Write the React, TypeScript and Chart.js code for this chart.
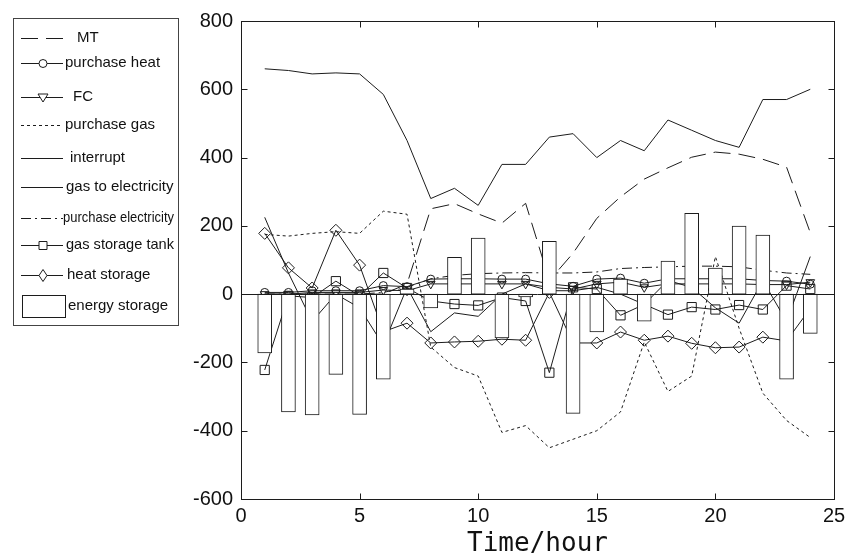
import React, { useEffect, useRef } from 'react';
import { Chart, registerables } from 'chart.js';

Chart.register(...registerables);

// ---------------- data ----------------
const hours = [1, 2, 3, 4, 5, 6, 7, 8, 9, 10, 11, 12, 13, 14, 15, 16, 17, 18, 19, 20, 21, 22, 23, 24];

const mtValues = [0, 0, 0, 0, 0, 0, 30, 250, 265, 235, 208, 266, 40, 120, 222, 285, 337, 370, 401, 416, 410, 395, 372, 180];
const purchaseHeat = [5, 5, 10, 10, 10, 25, 22, 44, 45, 45, 44, 44, 30, 23, 44, 47, 32, 45, 45, 45, 45, 40, 38, 29];
const fcValues = [0, 0, 5, 5, 5, 12, 10, 30, 30, 30, 30, 30, 20, 15, 30, 35, 20, 30, 30, 30, 30, 28, 28, 35];
const purchaseGas = [175, 170, 178, 183, 178, 243, 234, -155, -215, -240, -405, -385, -450, -425, -400, -345, -140, -285, -240, 110, -100, -290, -370, -420];
const interrupt = [660, 655, 645, 648, 645, 585, 450, 280, 310, 260, 380, 380, 460, 470, 400, 450, 420, 510, 480, 450, 430, 570, 570, 600];
const gasToElectricity = [225, 62, -80, 0, -40, -150, 20, -110, -55, -65, 0, 30, 10, 10, 20, 0, -30, 40, 20, -40, -85, 40, -80, 110];
const purchaseElectricity = [0, 0, 0, 0, 0, 5, 20, 45, 55, 60, 62, 63, 62, 62, 65, 75, 78, 80, 82, 82, 80, 70, 62, 58];
const gasStorageTank = [-222, -5, -10, 38, -5, 62, 18, -20, -29, -33, -10, -20, -230, 20, 15, -62, -30, -60, -38, -45, -32, -45, 25, 15];
const heatStorage = [178, 77, 18, 187, 85, -110, -85, -143, -140, -138, -132, -135, 5, -143, -143, -111, -135, -123, -144, -157, -155, -126, -137, -42];
const energyStorage = [-172, -345, -354, -235, -352, -249, 15, -40, 108, 164, -128, -8, 155, -349, -111, 44, -79, 97, 237, 76, 199, 173, -249, -115];

const xTicks = [0, 5, 10, 15, 20, 25];
const yTicks = [-600, -400, -200, 0, 200, 400, 600, 800];

const INK = '#1c1c1c';
const CLEAR = 'rgba(0,0,0,0)';

function pts(vals: number[]) {
  return hours.map((h, i) => ({ x: h, y: vals[i] }));
}

// ---------------- plugin: frame, inside ticks, zero line, legend ----------------
function drawMarker(ctx: CanvasRenderingContext2D, kind: string, x: number, y: number) {
  ctx.save();
  ctx.setLineDash([]);
  ctx.fillStyle = '#fff';
  ctx.strokeStyle = INK;
  ctx.lineWidth = 1;
  ctx.beginPath();
  if (kind === 'circle') {
    ctx.arc(x, y, 4, 0, Math.PI * 2);
  } else if (kind === 'triangle') {
    ctx.moveTo(x, y + 4.5);
    ctx.lineTo(x - 5, y - 3.5);
    ctx.lineTo(x + 5, y - 3.5);
    ctx.closePath();
  } else if (kind === 'rect') {
    ctx.rect(x - 4, y - 4, 8, 8);
  } else if (kind === 'rectRot') {
    ctx.moveTo(x, y - 6);
    ctx.lineTo(x + 4, y);
    ctx.lineTo(x, y + 6);
    ctx.lineTo(x - 4, y);
    ctx.closePath();
  }
  ctx.fill();
  ctx.stroke();
  ctx.restore();
}

const framePlugin = {
  id: 'frame',
  afterDatasetsDraw(chart: any) {
    const { ctx, chartArea: a, scales } = chart;
    const y0 = Math.round(scales.y.getPixelForValue(0)) + 0.5;
    ctx.save();
    ctx.strokeStyle = INK;
    ctx.lineWidth = 1;
    ctx.beginPath();
    ctx.moveTo(a.left, y0);
    ctx.lineTo(a.right, y0);
    ctx.stroke();
    ctx.restore();
  },
  afterDraw(chart: any) {
    const { ctx, chartArea: a, scales } = chart;
    ctx.save();
    ctx.strokeStyle = INK;
    ctx.lineWidth = 1;
    const L = Math.round(a.left) + 0.5;
    const R = Math.round(a.right) + 0.5;
    const T = Math.round(a.top) + 0.5;
    const B = Math.round(a.bottom) + 0.5;
    ctx.strokeRect(L, T, R - L, B - T);
    const tl = 6;
    ctx.beginPath();
    scales.x.ticks.forEach((t: any) => {
      const px = Math.round(scales.x.getPixelForValue(t.value)) + 0.5;
      ctx.moveTo(px, B);
      ctx.lineTo(px, B - tl);
      ctx.moveTo(px, T);
      ctx.lineTo(px, T + tl);
    });
    scales.y.ticks.forEach((t: any) => {
      const py = Math.round(scales.y.getPixelForValue(t.value)) + 0.5;
      ctx.moveTo(L, py);
      ctx.lineTo(L + tl, py);
      ctx.moveTo(R, py);
      ctx.lineTo(R - tl, py);
    });
    ctx.stroke();

    // legend box
    const lx = 13.5, ly = 18.5, lw = 165, lh = 307;
    ctx.fillStyle = '#fff';
    ctx.fillRect(lx, ly, lw, lh);
    ctx.strokeStyle = '#444';
    ctx.strokeRect(lx, ly, lw, lh);

    const rowY = [38, 63, 97, 125, 158, 187, 218, 245, 275, 306];
    const textX = [77, 65, 73, 65, 70, 66, 63, 66, 67, 68];
    ctx.font = '15px "Liberation Sans", Arial, sans-serif';
    ctx.textBaseline = 'middle';
    ctx.textAlign = 'left';
    chart.data.datasets.forEach((ds: any, i: number) => {
      const yy = Math.round(rowY[i]) + 0.5;
      if (ds.type === 'bar') {
        ctx.setLineDash([]);
        ctx.fillStyle = '#fff';
        ctx.strokeStyle = INK;
        ctx.fillRect(22.5, 295.5, 43, 22);
        ctx.strokeRect(22.5, 295.5, 43, 22);
      } else {
        ctx.strokeStyle = INK;
        ctx.lineWidth = 1;
        ctx.setLineDash(ds.borderDash || []);
        ctx.beginPath();
        ctx.moveTo(21, yy);
        ctx.lineTo(63, yy);
        ctx.stroke();
        ctx.setLineDash([]);
        if (ds.pointRadius > 0) drawMarker(ctx, ds.pointStyle, 43, yy);
      }
      ctx.fillStyle = '#111';
      ctx.fillText(ds.label, textX[i], rowY[i], 174 - textX[i]);
    });
    ctx.restore();
  },
};

function lineSet(label: string, vals: number[], extra: any) {
  return {
    type: 'line',
    label,
    data: pts(vals),
    borderColor: INK,
    borderWidth: 1,
    backgroundColor: CLEAR,
    pointBackgroundColor: CLEAR,
    pointBorderColor: INK,
    pointBorderWidth: 1,
    pointRadius: 0,
    tension: 0,
    fill: false,
    order: 1,
    ...extra,
  };
}

export default function App() {
  const ref = useRef<HTMLCanvasElement | null>(null);

  useEffect(() => {
    if (!ref.current) return;
    const chart = new Chart(ref.current, {
      type: 'line',
      data: {
        datasets: [
          lineSet('MT', mtValues, { borderDash: [17, 8] }),
          lineSet('purchase heat', purchaseHeat, { pointStyle: 'circle', pointRadius: 4 }),
          lineSet('FC', fcValues, { pointStyle: 'triangle', pointRadius: 5, pointRotation: 180 }),
          lineSet('purchase gas', purchaseGas, { borderDash: [3, 3] }),
          lineSet('interrupt', interrupt, {}),
          lineSet('gas to electricity', gasToElectricity, {}),
          lineSet('purchase electricity', purchaseElectricity, { borderDash: [10, 4, 2, 4] }),
          lineSet('gas storage tank', gasStorageTank, { pointStyle: 'rect', pointRadius: 6.5 }),
          lineSet('heat storage', heatStorage, { pointStyle: 'rectRot', pointRadius: 6 }),
          {
            type: 'bar',
            label: 'energy storage',
            data: pts(energyStorage),
            backgroundColor: '#ffffff',
            borderColor: INK,
            borderWidth: 1,
            borderSkipped: false,
            barThickness: 14,
            grouped: false,
            order: 0,
          },
        ] as any,
      },
      options: {
        responsive: false,
        animation: false,
        events: [],
        layout: { padding: { left: 0, right: 14, top: 21, bottom: 0 } },
        plugins: { legend: { display: false }, tooltip: { enabled: false } },
        scales: {
          x: {
            type: 'linear',
            min: 0,
            max: 25,
            offset: false,
            afterBuildTicks: (s: any) => { s.ticks = xTicks.map((v) => ({ value: v })); },
            afterFit: (s: any) => { s.height = 61; s.paddingLeft = 0; s.paddingRight = 0; },
            grid: { display: false, drawTicks: false, offset: false },
            border: { display: false },
            ticks: {
              padding: 5,
              color: '#111',
              font: { size: 20, family: '"Liberation Sans", Arial, sans-serif' },
              maxRotation: 0,
              autoSkip: false,
            },
            title: {
              display: true,
              text: 'Time/hour',
              color: '#111',
              padding: { top: 0, bottom: 0 },
              font: { size: 26, family: '"DejaVu Sans Mono", monospace' },
            },
          },
          y: {
            type: 'linear',
            min: -600,
            max: 800,
            afterBuildTicks: (s: any) => { s.ticks = yTicks.map((v) => ({ value: v })); },
            afterFit: (s: any) => { s.width = 241; s.paddingTop = 0; s.paddingBottom = 0; },
            grid: { display: false, drawTicks: false },
            border: { display: false },
            ticks: {
              padding: 8,
              color: '#111',
              font: { size: 20, family: '"Liberation Sans", Arial, sans-serif' },
              autoSkip: false,
            },
          },
        },
      },
      plugins: [framePlugin],
    } as any);
    return () => chart.destroy();
  }, []);

  return (
    <div style={{ position: 'absolute', left: 0, top: 0, width: 848, height: 560, background: '#fff' }}>
      <canvas ref={ref} width={848} height={560} />
    </div>
  );
}
